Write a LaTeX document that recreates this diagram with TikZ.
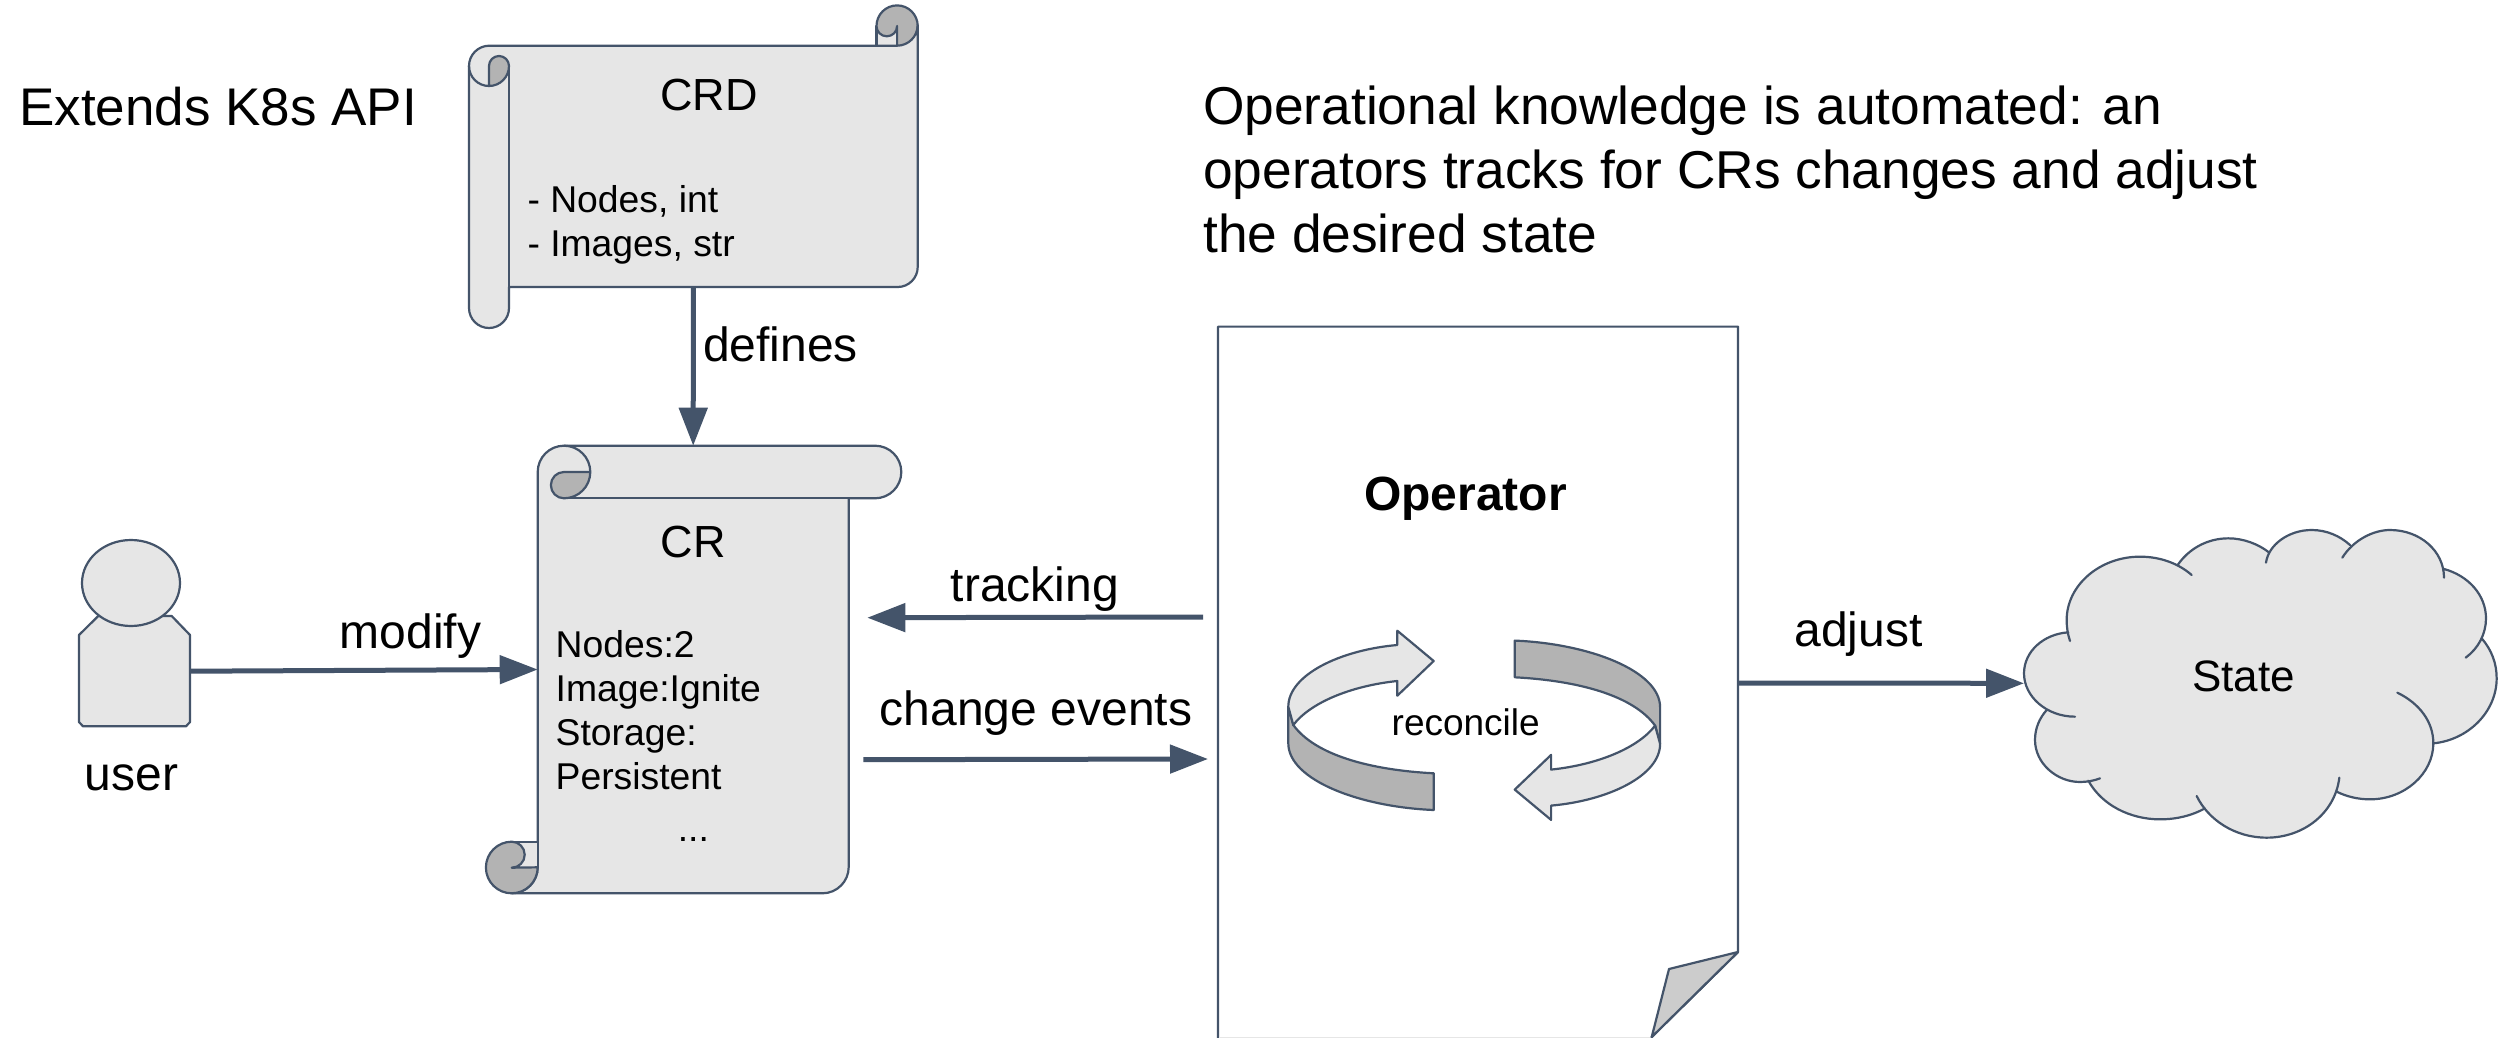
\documentclass[tikz,border=0pt]{standalone}
\usepackage{fontspec}
\setmainfont{Liberation Sans}
\usetikzlibrary{arrows.meta,shapes.geometric}
\definecolor{ink}{HTML}{44546A}
\definecolor{lightfill}{HTML}{E6E6E6}
\definecolor{darkfill}{HTML}{B3B3B3}
\definecolor{foldfill}{HTML}{CCCCCC}
\newcommand{\fs}[1]{\fontsize{#1}{#1}\selectfont}
\def\lobeA{(205,367) .. controls (130,372) and (72,425) .. (72,490) .. controls (72,560) and (140,620) .. (225,620)}
\def\lobeB{(140,600) .. controls (118,625) and (105,655) .. (105,690) .. controls (105,760) and (170,816) .. (240,816) .. controls (262,816) and (282,812) .. (300,805)}
\def\lobeC{(265,812) .. controls (305,885) and (390,928) .. (480,928) .. controls (530,928) and (575,917) .. (615,895)}
\def\lobeD{(590,858) .. controls (625,930) and (705,983) .. (800,983) .. controls (910,983) and (1005,910) .. (1018,803)}
\def\lobeE{(1010,845) .. controls (1040,860) and (1075,868) .. (1110,868) .. controls (1215,868) and (1300,790) .. (1300,700) .. controls (1300,635) and (1258,580) .. (1192,548)}
\def\lobeF{(1300,700) .. controls (1405,690) and (1490,605) .. (1490,505) .. controls (1490,460) and (1475,420) .. (1445,385)}
\def\lobeG{(1397,443) .. controls (1435,415) and (1458,372) .. (1458,325) .. controls (1458,255) and (1405,197) .. (1332,177)}
\def\lobeH{(1332,203) .. controls (1332,123) and (1260,60) .. (1170,60) .. controls (1120,60) and (1060,90) .. (1027,143)}
\def\lobeI{(1050,105) .. controls (1020,78) and (980,60) .. (935,60) .. controls (865,60) and (805,105) .. (798,158)}
\def\lobeJ{(808,128) .. controls (775,102) and (730,85) .. (685,85) .. controls (620,85) and (565,118) .. (533,165)}
\def\lobeK{(575,195) .. controls (535,160) and (480,140) .. (420,140) .. controls (300,140) and (200,225) .. (200,330) .. controls (200,352) and (203,372) .. (210,393)}
\tikzset{
  outline/.style={draw=ink,line width=2.2pt,line join=round},
  lightshape/.style={outline,fill=lightfill},
  darkshape/.style={outline,fill=darkfill},
  connector/.style={draw=ink,line width=5pt,-{Triangle[length=38pt,width=28pt]},shorten >=0pt},
  anchorbox/.style={inner sep=0pt,outer sep=0pt,draw=none,fill=none},
  leftlabel/.style={inner sep=0pt,anchor=base west,text=black},
  midlabel/.style={inner sep=0pt,anchor=base,text=black},
}
\begin{document}
\begin{tikzpicture}[x=1pt,y=1pt]
\useasboundingbox (0,0) rectangle (2509,-1038);
\fill[white] (0,0) rectangle (2509,-1038);

% CRD scroll
\node[anchorbox,minimum width=448.7pt,minimum height=241.3pt] (crd) at (693.35,-166.35) {};
\path[lightshape] (876.5,-26) -- (876.5,-46) -- (897,-46) -- (897,-26) -- cycle;
\path[darkshape] (876.5,-26) arc[start angle=180,end angle=0,radius=20.6]
   arc[start angle=0,end angle=-90,radius=20.6] -- (897.1,-26)
   arc[start angle=0,end angle=-180,radius=10.3] -- cycle;
\path[lightshape] (469,-66) arc[start angle=180,end angle=90,radius=20.3] -- (897,-45.7)
   arc[start angle=-90,end angle=0,radius=20.7] -- (917.7,-267)
   arc[start angle=0,end angle=-90,radius=20] -- (509,-287) -- (509,-308)
   arc[start angle=0,end angle=-180,radius=20] -- cycle;
\path[darkshape] (489,-86) -- (489,-66) arc[start angle=180,end angle=0,radius=10] arc[start angle=0,end angle=-90,radius=20] -- cycle;
\draw[outline] (509,-66) -- (509,-287);
\path[outline] (469,-66) arc[start angle=180,end angle=270,radius=20];

% CR scroll
\node[anchorbox,minimum width=311pt,minimum height=447.6pt] (cr) at (693.2,-669.5) {};
\path[lightshape] (537.7,-472) arc[start angle=180,end angle=90,radius=26.3] -- (875,-445.7)
   arc[start angle=90,end angle=-90,radius=26.3] -- (848.7,-498.3) -- (848.7,-867)
   arc[start angle=0,end angle=-90,radius=26.3] -- (511.7,-893.3)
   arc[start angle=270,end angle=360,radius=26] -- cycle;
\draw[outline] (564,-498.3) -- (848.7,-498.3);
\path[darkshape] (590.3,-472) -- (564,-472) arc[start angle=90,end angle=270,radius=13.15]
   arc[start angle=-90,end angle=0,radius=26.3];
\draw[outline] (564,-445.7) arc[start angle=90,end angle=0,radius=26.3];
\path[lightshape] (511.7,-841.7) -- (537.7,-841.7) -- (537.7,-867.7) -- (511.7,-867.7) -- cycle;
\path[darkshape] (511.7,-841.7) arc[start angle=90,end angle=270,radius=25.8]
   arc[start angle=-90,end angle=0,radius=26] -- (511.7,-867.7)
   arc[start angle=-90,end angle=90,radius=13] -- cycle;

% User
\node[anchorbox,minimum width=111pt,minimum height=110.3pt] (user) at (134.5,-671.2) {};
\path[lightshape] (98.3,-616) -- (171.7,-616) -- (190,-635) -- (190,-722) -- (186,-726.3) -- (83,-726.3) -- (79,-722) -- (79,-635) -- cycle;
\node[lightshape,shape=ellipse,inner sep=0pt,minimum width=98pt,minimum height=86pt] (head) at (131,-583) {};

% Operator page
\node[anchorbox,minimum width=520pt,minimum height=712.8pt] (op) at (1478,-683) {};
\path[outline,fill=white] (1218,-1041) -- (1218,-326.6) -- (1738,-326.6) -- (1738,-952) -- (1651.7,-1037) -- (1651.7,-1041);
\path[outline,fill=foldfill] (1738,-952) -- (1669,-969) -- (1651.7,-1037) -- cycle;
\draw[lightfill,line width=1pt] (1220,-1037.5) -- (1650,-1037.5);

% Reconcile ring
\foreach \ang in {0,180}{
\begin{scope}[rotate around={\ang:(1474.2,-725.3)}]
  \path[darkshape] (1288.3,-706.7) -- (1288.3,-743.3)
     .. controls (1288.3,-780) and (1360,-807) .. (1433.7,-810) -- (1433.7,-773.3)
     .. controls (1370,-770) and (1315,-755) .. (1293.3,-725) -- cycle;
  \path[lightshape] (1288.3,-706.7) .. controls (1288.3,-675) and (1340,-650) .. (1397.3,-645)
     -- (1397.3,-630.7) -- (1433.7,-661) -- (1397.3,-695.7) -- (1397.3,-681)
     .. controls (1350,-686) and (1310,-703) .. (1293.3,-725) -- cycle;
\end{scope}}

% Cloud
\node[anchorbox,minimum width=473pt,minimum height=308.7pt] (state) at (2260.5,-683.3) {};
\begin{scope}[shift={(2000,-510)},x=0.33333pt,y=-0.33333pt]
  \fill[lightfill] \lobeA -- \lobeB -- \lobeC -- \lobeD -- \lobeE -- \lobeF -- \lobeG -- \lobeH -- \lobeI -- \lobeJ -- \lobeK -- cycle;
  \draw[outline,line cap=round] \lobeA \lobeB \lobeC \lobeD \lobeE \lobeF \lobeG \lobeH \lobeI \lobeJ \lobeK;
\end{scope}

% Connector ends
\coordinate (trackstart) at (1203,-617);
\coordinate (trackend) at (867.3,-617.7);
\coordinate (changestart) at (863.3,-759.7);
\coordinate (changeend) at (1208,-759);

\draw[connector] (crd.south) -- (cr.north);
\draw[connector] (user.east) -- (cr.west);
\draw[connector] (trackstart) -- (trackend);
\draw[connector] (changestart) -- (changeend);
\draw[connector] (op.east) -- (state.west);

% Texts
\node[leftlabel,font=\fs{53}] (t1) at (19,-126) {Extends K8s API};
\node[leftlabel,font=\fs{53.3}] (t2) at (1203,-125) {Operational knowledge is automated: an};
\node[leftlabel,font=\fs{53.3}] (t3) at (1203,-189) {operators tracks for CRs changes and adjust};
\node[leftlabel,font=\fs{53.3}] (t4) at (1203,-252) {the desired state};
\node[midlabel,font=\fs{45}] (crdt) at (709,-111) {CRD};
\node[leftlabel,font=\fs{37.3}] (crd1) at (527.3,-212.7) {- Nodes, int};
\node[leftlabel,font=\fs{37.3}] (crd2) at (527.3,-256) {- Images, str};
\node[midlabel,font=\fs{45}] (crt) at (693.3,-557.3) {CR};
\node[leftlabel,font=\fs{37.3}] (cr1) at (555.5,-657.3) {Nodes:2};
\node[leftlabel,font=\fs{37.3}] (cr2) at (555.5,-701.7) {Image:Ignite};
\node[leftlabel,font=\fs{37.3}] (cr3) at (555.5,-745) {Storage:};
\node[leftlabel,font=\fs{37.3}] (cr4) at (555.5,-789) {Persistent};
\node[midlabel,font=\fs{37.3}] (cr5) at (693.3,-841.7) {...};
\node[midlabel,font=\fs{48}] (ut) at (131.5,-790) {user};
\node[midlabel,font=\fs{48}] (mt) at (410.5,-648) {modify};
\node[leftlabel,font=\fs{48}] (dt) at (703,-361.6) {defines};
\node[midlabel,font=\fs{48}] (trt) at (1035,-601.6) {tracking};
\node[midlabel,font=\fs{48}] (cet) at (1036,-725) {change events};
\node[midlabel,font=\fs{48}] (at) at (1858.5,-646) {adjust};
\node[midlabel,font=\fs{48}\bfseries] (opt) at (1465.6,-510) {Operator};
\node[midlabel,font=\fs{37}] (rec) at (1465.7,-735.7) {reconcile};
\node[midlabel,font=\fs{44}] (st) at (2243.5,-691) {State};
\end{tikzpicture}
\end{document}
